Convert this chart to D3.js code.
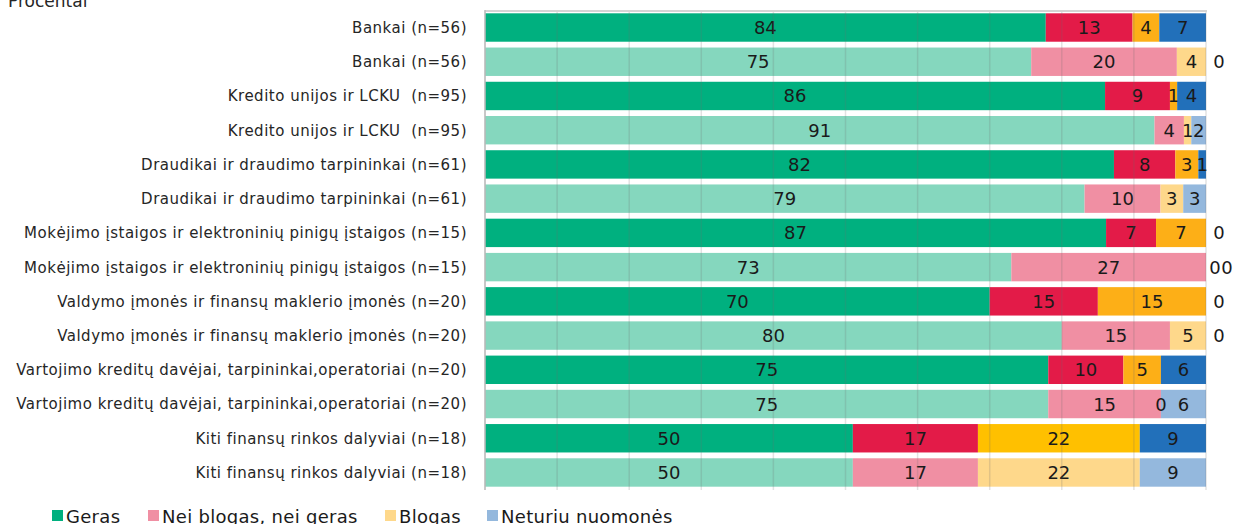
<!DOCTYPE html>
<html>
<head>
<meta charset="utf-8">
<script src="https://cdn.jsdelivr.net/npm/d3@7"></script>
<style>
  body { margin: 0; background: #fff; }
  svg { display: block; font-family: "DejaVu Sans", Verdana, sans-serif; }
</style>
</head>
<body>
<div id="chart"></div>
<script>
// rows top to bottom, each sector appears twice (dark + light bar)
const categories = [
    'Bankai (n=56)', 'Bankai (n=56)',
    'Kredito unijos ir LCKU  (n=95)', 'Kredito unijos ir LCKU  (n=95)',
    'Draudikai ir draudimo tarpininkai (n=61)', 'Draudikai ir draudimo tarpininkai (n=61)',
    'Mokėjimo įstaigos ir elektroninių pinigų įstaigos (n=15)', 'Mokėjimo įstaigos ir elektroninių pinigų įstaigos (n=15)',
    'Valdymo įmonės ir finansų maklerio įmonės (n=20)', 'Valdymo įmonės ir finansų maklerio įmonės (n=20)',
    'Vartojimo kreditų davėjai, tarpininkai,operatoriai (n=20)', 'Vartojimo kreditų davėjai, tarpininkai,operatoriai (n=20)',
    'Kiti finansų rinkos dalyviai (n=18)', 'Kiti finansų rinkos dalyviai (n=18)'
];
const seriesNames = ['Geras', 'Nei blogas, nei geras', 'Blogas', 'Neturiu nuomonės'];
const geras   = [84, 75, 86, 91, 82, 79, 87, 73, 70, 80, 75, 75, 50, 50];
const neiNei  = [13, 20,  9,  4,  8, 10,  7, 27, 15, 15, 10, 15, 17, 17];
const blogas  = [ 4,  4,  1,  1,  3,  3,  7,  0, 15,  5,  5,  0, 22, 22];
const neturiu = [ 7,  0,  4,  2,  1,  3,  0,  0,  0,  0,  6,  6,  9,  9];
const xTicks = [0, 10, 20, 30, 40, 50, 60, 70, 80, 90, 100];

const darkColors  = ['#00b07f', '#e31b48', '#fdaf17', '#2270ba'];
const lightColors = ['#85d7be', '#f08fa3', '#fed88b', '#94b8dd'];
const legendColors = ['#00b07f', '#f08fa3', '#fed88b', '#94b8dd'];

const width = 1238, height = 524;
const plotLeft = 485, plotRight = 1206, plotTop = 10.4, plotBottom = 489.6;

const svg = d3.select('#chart').append('svg')
    .attr('width', width)
    .attr('height', height);

const series = [geras, neiNei, blogas, neturiu];
const rows = categories.map((c, i) => {
    const vals = series.map(s => s[i]);
    const total = d3.sum(vals);
    let cum = 0;
    const segs = vals.map((v, k) => {
        const s = { k: k, v: v, x0: cum / total * 100, x1: (cum + v) / total * 100 };
        cum += v;
        return s;
    });
    return { i: i, label: c, segs: segs, dark: i % 2 === 0 };
});

const x = d3.scaleLinear().domain([0, 100]).range([plotLeft, plotRight]);
const y = d3.scaleBand().domain(d3.range(categories.length))
    .range([plotTop, plotBottom]).paddingInner(0.17).paddingOuter(0.085);

function segColor(row, k) {
    if (row.dark) {
        // the last sector uses a yellower "Blogas" shade
        if (k === 2 && row.i === 12) return '#ffc000';
        return darkColors[k];
    }
    return lightColors[k];
}

// bars
const rowG = svg.selectAll('g.row').data(rows).enter().append('g').attr('class', 'row');
rowG.selectAll('rect').data(d => d.segs.map(s => Object.assign({ row: d }, s)))
    .enter().append('rect')
    .attr('x', d => x(d.x0))
    .attr('y', d => y(d.row.i))
    .attr('width', d => x(d.x1) - x(d.x0))
    .attr('height', y.bandwidth())
    .attr('fill', d => segColor(d.row, d.k));

// gridlines on top of bars
svg.append('g').selectAll('line').data(xTicks).enter().append('line')
    .attr('x1', d => x(d)).attr('x2', d => x(d))
    .attr('y1', 11).attr('y2', 490)
    .attr('stroke', 'rgba(110,110,110,0.2)')
    .attr('stroke-width', 1.5);

svg.append('line')
    .attr('x1', plotLeft).attr('x2', plotRight + 1)
    .attr('y1', 11).attr('y2', 11)
    .attr('stroke', '#d4d4d4').attr('stroke-width', 2);

svg.append('line')
    .attr('x1', plotLeft).attr('x2', plotLeft)
    .attr('y1', 10).attr('y2', 490)
    .attr('stroke', '#bdbdbd').attr('stroke-width', 1.5);

// data labels
rowG.each(function(row) {
    const trailing = row.segs.filter(s => s.v === 0 && s.x0 >= 99.999);
    d3.select(this).selectAll('text.val').data(row.segs)
        .enter().append('text')
        .attr('class', 'val')
        .attr('x', s => {
            const t = trailing.indexOf(s);
            if (t >= 0) return x(100) + 13 - (trailing.length - 1) * 4 + t * 12;
            return x((s.x0 + s.x1) / 2);
        })
        .attr('y', y(row.i) + y.bandwidth() / 2)
        .attr('dy', '0.36em')
        .attr('text-anchor', 'middle')
        .attr('fill', '#1a1a1a')
        .style('font-size', '18px')
        .text(s => s.v);
});

// category labels
svg.append('g').selectAll('text').data(rows).enter().append('text')
    .attr('x', 467)
    .attr('y', d => y(d.i) + y.bandwidth() / 2)
    .attr('dy', '0.36em')
    .attr('text-anchor', 'end')
    .attr('fill', '#262626')
    .style('font-size', '15px')
    .style('letter-spacing', '0.5px')
    .style('white-space', 'pre')
    .text(d => d.label);

svg.append('text')
    .attr('x', 8).attr('y', 7)
    .attr('fill', '#262626')
    .style('font-size', '17px')
    .text('Procentai');

// legend
const legendX = [52, 148, 385, 487];
const leg = svg.append('g').selectAll('g').data(seriesNames).enter().append('g')
    .attr('transform', (d, i) => `translate(${legendX[i]}, 0)`);
leg.append('rect')
    .attr('x', 0).attr('y', 510)
    .attr('width', 11).attr('height', 11)
    .attr('fill', (d, i) => legendColors[i]);
leg.append('text')
    .attr('x', 14).attr('y', 522.5)
    .attr('fill', '#1a1a1a')
    .style('font-size', '18px')
    .style('letter-spacing', '0.3px')
    .text(d => d);
</script>
</body>
</html>
